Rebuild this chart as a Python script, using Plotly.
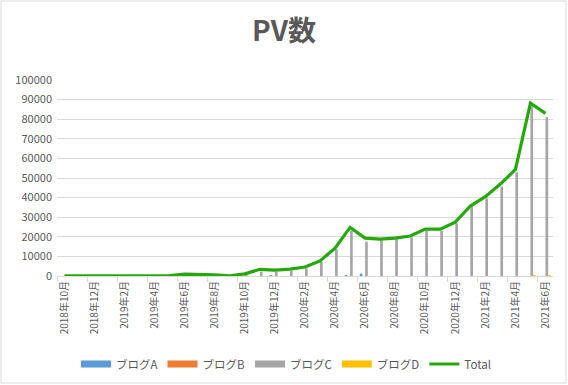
import plotly.graph_objects as go

months = [
    "2018年10月", "2018年11月", "2018年12月", "2019年1月", "2019年2月", "2019年3月",
    "2019年4月", "2019年5月", "2019年6月", "2019年7月", "2019年8月", "2019年9月",
    "2019年10月", "2019年11月", "2019年12月", "2020年1月", "2020年2月", "2020年3月",
    "2020年4月", "2020年5月", "2020年6月", "2020年7月", "2020年8月", "2020年9月",
    "2020年10月", "2020年11月", "2020年12月", "2021年1月", "2021年2月", "2021年3月",
    "2021年4月", "2021年5月", "2021年6月",
]

blog_a = [0, 0, 0, 0, 0, 0, 0, 0, 0, 0, 0, 0,
          0, 0, 400, 0, 0, 0, 0, 500, 1200, 0, 0, 0,
          0, 0, 0, 0, 0, 0, 0, 0, 0]
blog_b = [0] * 33
blog_c = [80, 80, 80, 80, 80, 80, 80, 100, 800, 800, 500, 80,
          900, 2200, 2200, 2700, 3900, 7300, 13600, 23100, 17500, 18200, 18700, 19700,
          23100, 23100, 26900, 35400, 39600, 45600, 52900, 86400, 81000]
blog_d = [0, 0, 0, 0, 0, 0, 0, 0, 0, 0, 0, 0,
          0, 0, 0, 0, 0, 0, 0, 0, 0, 0, 0, 0,
          0, 0, 0, 0, 0, 0, 0, 500, 500]
total = [100, 100, 100, 100, 100, 100, 100, 150, 1000, 1000, 600, 100,
         1100, 3400, 3000, 3500, 4600, 7700, 14200, 24800, 19300, 18800, 19300, 20400,
         23900, 23900, 27500, 35700, 40500, 46900, 54400, 88200, 83000]

y_ticks = [0, 10000, 20000, 30000, 40000, 50000, 60000, 70000, 80000, 90000, 100000]

FONT = "Noto Sans CJK JP, Noto Sans, sans-serif"
GREY_TEXT = "#595959"
LINE_GREEN = "#25A90A"

fig = go.Figure()
series = [("ブログA", blog_a, "#5B9BD5"), ("ブログB", blog_b, "#ED7D31"),
          ("ブログC", blog_c, "#A5A5A5"), ("ブログD", blog_d, "#FFC000")]
for name, vals, col in series:
    fig.add_trace(go.Bar(x=months, y=vals, name=name, marker_color=col,
                         marker_line_width=0, showlegend=False))
fig.add_trace(go.Scatter(x=months, y=total, name="Total", mode="lines",
                         line=dict(color=LINE_GREEN, width=3.2), showlegend=False))

# legend entries (Excel-style wide swatches)
for name, vals, col in series:
    fig.add_trace(go.Scatter(x=[months[0]], y=[None], name=name, mode="lines",
                             line=dict(color=col, width=7), hoverinfo="skip"))
fig.add_trace(go.Scatter(x=[months[0]], y=[None], name="Total", mode="lines",
                         line=dict(color=LINE_GREEN, width=3.2), hoverinfo="skip"))

fig.update_layout(
    width=568, height=385,
    margin=dict(l=57, r=15, t=80, b=109, autoexpand=False),
    paper_bgcolor="white", plot_bgcolor="white",
    barmode="group", bargap=0.29, bargroupgap=0,
    font=dict(family=FONT, color=GREY_TEXT, size=10.5),
    title=dict(text="<b>PV数</b>", x=0.5, xanchor="center", y=1 - 31 / 385,
               yanchor="middle", font=dict(size=28, color=GREY_TEXT, family=FONT)),
    showlegend=True,
    legend=dict(orientation="h", x=(286 - 57) / 496, xanchor="center",
                y=(276 - 364) / 196, yanchor="middle",
                font=dict(size=11.5, color=GREY_TEXT),
                traceorder="normal", itemwidth=30),
    xaxis=dict(type="category", tickangle=-90, tickson="boundaries", dtick=2,
               ticks="outside", ticklen=5, tickcolor="#d9d9d9",
               showline=True, linecolor="#d9d9d9", linewidth=1,
               showgrid=False, automargin=False,
               tickfont=dict(size=10, color=GREY_TEXT)),
    yaxis=dict(range=[0, 100000], tickvals=y_ticks, tickformat="d",
               showgrid=True, gridcolor="#d9d9d9", gridwidth=1,
               zeroline=False, showline=False, ticks="", automargin=False,
               ticklabelstandoff=4,
               tickfont=dict(size=11, color=GREY_TEXT)),
    shapes=[dict(type="rect", xref="paper", yref="paper",
                 x0=(1 - 57) / 496, x1=(566 - 57) / 496,
                 y0=(276 - 383) / 196, y1=(276 - 1) / 196,
                 line=dict(color="#d9d9d9", width=1), layer="below")],
)

fig.write_html(
    "out.html",
    config={"displayModeBar": False},
    post_script="document.body.style.margin='0px';document.body.style.overflow='hidden';",
)
